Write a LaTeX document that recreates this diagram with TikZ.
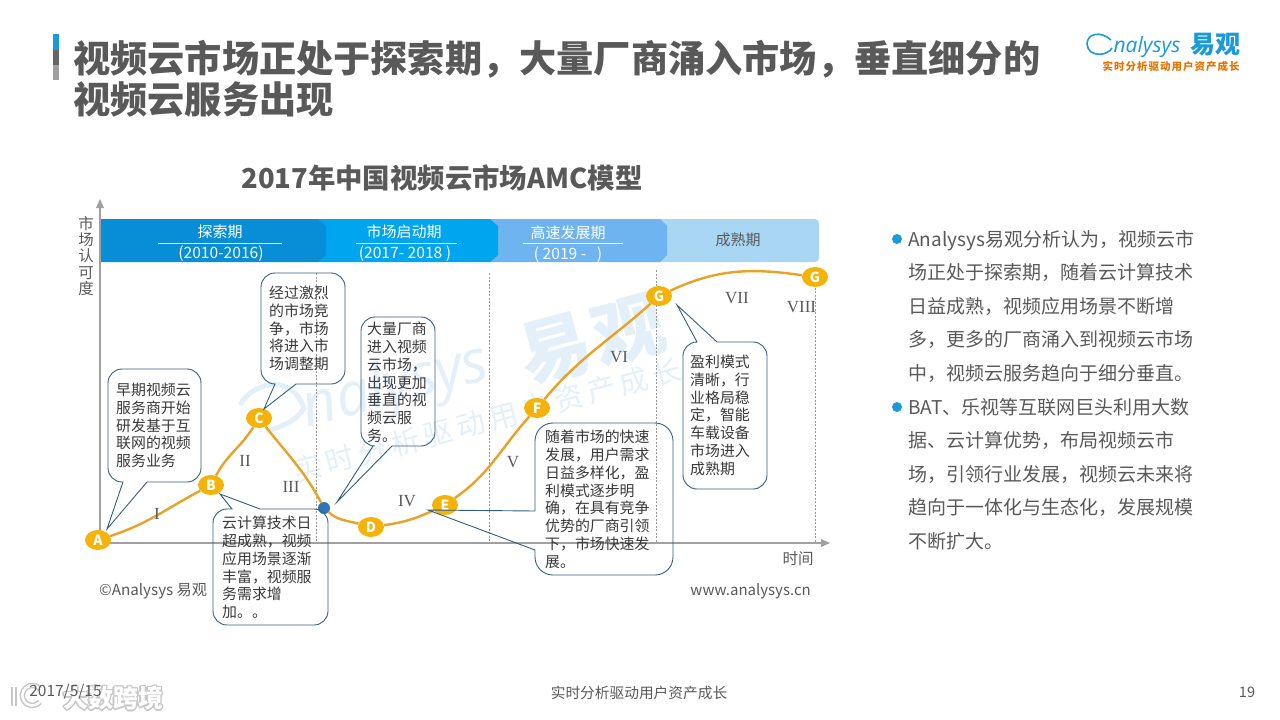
\documentclass[tikz,border=0pt]{standalone}
\usepackage{fontspec}
\setmainfont{Noto Sans CJK SC}
\newfontfamily\romanfont{Liberation Serif}
\newfontfamily\latinfont{Open Sans}
\usetikzlibrary{shapes.geometric}
\definecolor{inkgray}{HTML}{595959}
\definecolor{axisgray}{HTML}{A0A0A0}
\definecolor{curveorange}{HTML}{E8A228}
\definecolor{dotyellow}{HTML}{F5B30A}
\definecolor{calloutblue}{HTML}{2F5F80}
\definecolor{markblue}{HTML}{1A9AD6}
\definecolor{dotblue}{HTML}{2E75B6}
\definecolor{wmblue}{HTML}{E3F0F9}
\definecolor{stageone}{HTML}{088ED7}
\definecolor{stagetwo}{HTML}{00A5F0}
\definecolor{stagethree}{HTML}{6EB4F0}
\definecolor{stagefour}{HTML}{A8D6F3}
\begin{document}
\begin{tikzpicture}[
  x=1pt, y=-1pt,
  stagelabel/.style={inner sep=0pt, text=white, font=\fontsize{15}{16}\selectfont},
  stageyear/.style={inner sep=0pt, text=white, font=\fontsize{15.6}{16}\selectfont},
  stagerule/.style={draw=white, line width=0.7pt},
  curvept/.style={ellipse, fill=dotyellow, minimum width=26pt, minimum height=20pt, inner sep=0pt, text=white, font=\fontsize{14}{14}\bfseries\selectfont},
  phase/.style={inner sep=0pt, text=inkgray, font=\romanfont\fontsize{17}{17}\selectfont},
  gridline/.style={draw=gray!80, line width=0.5pt, dashed, dash pattern=on 2pt off 1.5pt},
  axisline/.style={draw=axisgray, line width=2pt},
  axistip/.style={fill=axisgray},
  curveline/.style={draw=curveorange, line width=2.4pt},
  calloutline/.style={draw=calloutblue, line width=0.9pt},
  callouttext/.style={anchor=north west, inner sep=0pt, align=left, text=black!78, font=\fontsize{14.9}{17.75}\selectfont},
  bodytext/.style={anchor=north west, inner sep=0pt, align=left, text=inkgray, font=\fontsize{19}{33.45}\selectfont},
  watermark/.style={inner sep=0pt, text=wmblue, rotate=15},
  brandhalo/.style={inner sep=0pt, text=black!22, font=\fontsize{25}{25}\bfseries\selectfont}
]
\useasboundingbox (0,0) rectangle (1280,720);

\node[watermark, font=\fontsize{72}{72}\bfseries\selectfont] (wmcn) at (592,340) {易\kern4pt观};
\node[watermark, font=\latinfont\fontsize{60}{60}\selectfont\itshape] (wmen) at (396,388) {nalysys};
\node[watermark, font=\fontsize{29}{29}\selectfont] (wmtag) at (487,420) {实\,时\,分\,析\,驱\,动\,用\,户\,资\,产\,成\,长};
\draw[wmblue, line width=5pt] (240,405) .. controls (250,385) and (290,370) .. (304,408) .. controls (298,420) and (280,428) .. (266,431);

\fill[markblue] (53,34) rectangle (59,50);
\fill[black!60] (53,50) rectangle (59,65);
\fill[axisgray] (53,65) rectangle (59,80);
\node[anchor=west, inner sep=0pt, text=inkgray, font=\fontsize{37.2}{41}\bfseries\selectfont, align=left] (title) at (73,78.5) {视频云市场正处于探索期，大量厂商涌入市场，垂直细分的\\视频云服务出现};

\node[inner sep=0pt, text=inkgray, font=\fontsize{27.4}{28}\bfseries\selectfont] (charttitle) at (442,178) {2017年中国视频云市场AMC模型};

\fill[rounded corners=4pt, fill=stagefour] (650,219) rectangle (819,262);
\fill[fill=stagethree] (490,219) -- (660,219) -- (667,226) -- (667,255) -- (660,262) -- (490,262) -- cycle;
\fill[fill=stagetwo] (318,219) -- (490,219) -- (498,226) -- (498,255) -- (490,262) -- (318,262) -- cycle;
\fill[fill=stageone] (101,219) -- (318,219) -- (326,226) -- (326,255) -- (318,262) -- (101,262) -- cycle;

\node[stagelabel] (explore) at (220,232) {探索期};
\node[stageyear] (exploreyear) at (221,254) {(2010-2016)};
\draw[stagerule] (158,243) -- (282,243);
\node[stagelabel] (launch) at (404,232) {市场启动期};
\node[stageyear] (launchyear) at (405,254) {(2017- 2018 )};
\draw[stagerule] (356,243) -- (457,243);
\node[stagelabel] (growth) at (568,233) {高速发展期};
\node[stageyear] (growthyear) at (568,255) {( 2019 -\ \ \ )};
\draw[stagerule] (523,243) -- (623,243);
\node[stagelabel, text=inkgray] (mature) at (738,240) {成熟期};

\node[inner sep=0pt, text=inkgray, align=center, font=\fontsize{15.4}{16.4}\selectfont] (ylabel) at (86,256) {市\\场\\认\\可\\度};
\node[inner sep=0pt, text=inkgray, font=\fontsize{15.5}{15.5}\selectfont] (xlabel) at (798,559) {时间};

\draw[gridline] (316,273) -- (316,543);
\draw[gridline] (489,273) -- (489,543);
\draw[gridline] (656,270) -- (656,543);
\draw[gridline] (815,270) -- (815,543);

\coordinate (origin) at (100,543);
\coordinate (yend) at (100,207);
\coordinate (xend) at (822,543);
\draw[axisline] (yend) -- (origin) -- (xend);
\fill[axistip] (100,199) -- (104,208) -- (96,208) -- cycle;
\fill[axistip] (830,543) -- (821,539) -- (821,547) -- cycle;

\node[curvept] (ptA) at (98,540) {A};
\node[curvept] (ptB) at (211,485) {B};
\node[curvept] (ptC) at (259,418) {C};
\node[circle, fill=dotblue, minimum size=12pt, inner sep=0pt] (ptdot) at (324,508) {};
\node[curvept] (ptD) at (371,527) {D};
\node[curvept] (ptE) at (445,505) {E};
\node[curvept] (ptF) at (537,408) {F};
\node[curvept] (ptG) at (659,296) {G};
\node[curvept] (ptH) at (815,277) {G};

\draw[curveline] (ptA) to[out=18, in=208] (ptB);
\draw[curveline] (ptB) to[out=62, in=238] (ptC);
\draw[curveline] (ptC) to[out=-52, in=118] (ptdot);
\draw[curveline] (ptdot) to[out=-42, in=165] (ptD);
\draw[curveline] (ptD) to[out=8, in=205] (ptE);
\draw[curveline] (ptE) to[out=35, in=228] (ptF);
\draw[curveline] (ptF) to[out=50, in=222] (ptG);
\draw[curveline] (ptG) to[out=25, in=172] (ptH);

\node[phase] (phaseI) at (157,514) {I};
\node[phase] (phaseII) at (245,461) {II};
\node[phase] (phaseIII) at (291,487) {III};
\node[phase] (phaseIV) at (407,501) {IV};
\node[phase] (phaseV) at (513,462) {V};
\node[phase] (phaseVI) at (619,357) {VI};
\node[phase] (phaseVII) at (737,298) {VII};
\node[phase] (phaseVIII) at (801.5,307) {VIII};

\draw[calloutline] (107,529) -- (147,482) [rounded corners=14pt] -- (201,482) -- (201,369) -- (108,369) -- (108,482) [sharp corners] -- (123,482) -- cycle;
\node[callouttext] (noteA) at (116,383) {早期视频云\\服务商开始\\研发基于互\\联网的视频\\服务业务};

\draw[calloutline] (220,494) -- (260,509) [rounded corners=14pt] -- (328,509) -- (328,625) -- (213,625) -- (213,509) [sharp corners] -- (232,509) -- cycle;
\node[callouttext] (noteB) at (222,516) {云计算技术日\\超成熟，视频\\应用场景逐渐\\丰富，视频服\\务需求增\\加。。};

\draw[calloutline] (264,409) -- (296,384) [rounded corners=14pt] -- (345,384) -- (345,273) -- (261,273) -- (261,384) [sharp corners] -- (275,384) -- cycle;
\node[callouttext] (noteC) at (269,286) {经过激烈\\的市场竞\\争，市场\\将进入市\\场调整期};

\draw[calloutline] (337,502) -- (392,446) [rounded corners=14pt] -- (435,446) -- (435,317) -- (361,317) -- (361,446) [sharp corners] -- (373,446) -- cycle;
\node[callouttext] (noteD) at (367,322) {大量厂商\\进入视频\\云市场，\\出现更加\\垂直的视\\频云服\\务。};

\draw[calloutline] (428,510) -- (535,511) [rounded corners=18pt] -- (535,423) -- (673,423) -- (673,575) -- (535,575) [sharp corners] -- (535,550) -- cycle;
\node[callouttext] (noteE) at (545,430) {随着市场的快速\\发展，用户需求\\日益多样化，盈\\利模式逐步明\\确，在具有竞争\\优势的厂商引领\\下，市场快速发\\展。};

\draw[calloutline] (677,305) -- (717,342) [rounded corners=14pt] -- (767,342) -- (767,489) -- (683,489) -- (683,342) [sharp corners] -- (697,342) -- cycle;
\node[callouttext] (noteG) at (690,355) {盈利模式\\清晰，行\\业格局稳\\定，智能\\车载设备\\市场进入\\成熟期};

\node[anchor=west, inner sep=0pt, text=inkgray, font=\fontsize{15.2}{15.2}\selectfont] (copyright) at (99,591) {©Analysys 易观};
\node[anchor=east, inner sep=0pt, text=inkgray, font=\fontsize{15}{15}\selectfont] (website) at (811,591) {www.analysys.cn};

\node[circle, fill=markblue, minimum size=10pt, inner sep=0pt] (bulletA) at (897,239) {};
\node[bodytext] (bodyA) at (908,230) {Analysys易观分析认为，视频云市\\场正处于探索期，随着云计算技术\\日益成熟，视频应用场景不断增\\多，更多的厂商涌入到视频云市场\\中，视频云服务趋向于细分垂直。};
\node[circle, fill=markblue, minimum size=10pt, inner sep=0pt] (bulletB) at (897,407) {};
\node[bodytext] (bodyB) at (908,398) {BAT、乐视等互联网巨头利用大数\\据、云计算优势，布局视频云市\\场，引领行业发展，视频云未来将\\趋向于一体化与生态化，发展规模\\不断扩大。};

\node[inner sep=0pt, text=markblue, font=\latinfont\fontsize{21}{21}\itshape\selectfont] (logoen) at (1147,47) {nalysys};
\node[inner sep=0pt, text=markblue, font=\fontsize{25}{25}\bfseries\selectfont] (logocn) at (1215,45) {易观};
\draw[markblue, line width=1.6pt] (1111,40) .. controls (1100,30) and (1087,34) .. (1087,44) .. controls (1088,58) and (1108,56) .. (1112,48);
\node[inner sep=0pt, text=orange!90!black, font=\fontsize{10.5}{10.5}\bfseries\selectfont] (logotag) at (1171,66) {实\kern1pt时\kern1pt分\kern1pt析\kern1pt驱\kern1pt动\kern1pt用\kern1pt户\kern1pt资\kern1pt产\kern1pt成\kern1pt长};

\foreach \dx/\dy in {-1.5/0, 1.5/0, 0/-1.5, 0/1.5, -1/-1, 1/1, -1/1, 1/-1} {
  \node[brandhalo] at (113+\dx,698+\dy) {大数跨境};
}
\node[brandhalo, text=white] (brand) at (113,698) {大数跨境};
\draw[black!22, line width=5.5pt] (14,687) -- (14,706);
\draw[white, line width=2.5pt] (14,687) -- (14,706);
\draw[black!22, line width=5.5pt] (40,689) arc[start angle=40, end angle=320, radius=10pt];
\draw[white, line width=2.5pt] (40,689) arc[start angle=40, end angle=320, radius=10pt];

\node[inner sep=0pt, text=inkgray, font=\fontsize{15.5}{15.5}\selectfont] (date) at (65.5,692) {2017/5/15};
\node[inner sep=0pt, text=inkgray, font=\fontsize{14.7}{14.7}\selectfont] (footer) at (639,693) {实时分析驱动用户资产成长};
\node[inner sep=0pt, text=inkgray, font=\fontsize{14.5}{14.5}\selectfont] (pageno) at (1247,692) {19};
\end{tikzpicture}
\end{document}
